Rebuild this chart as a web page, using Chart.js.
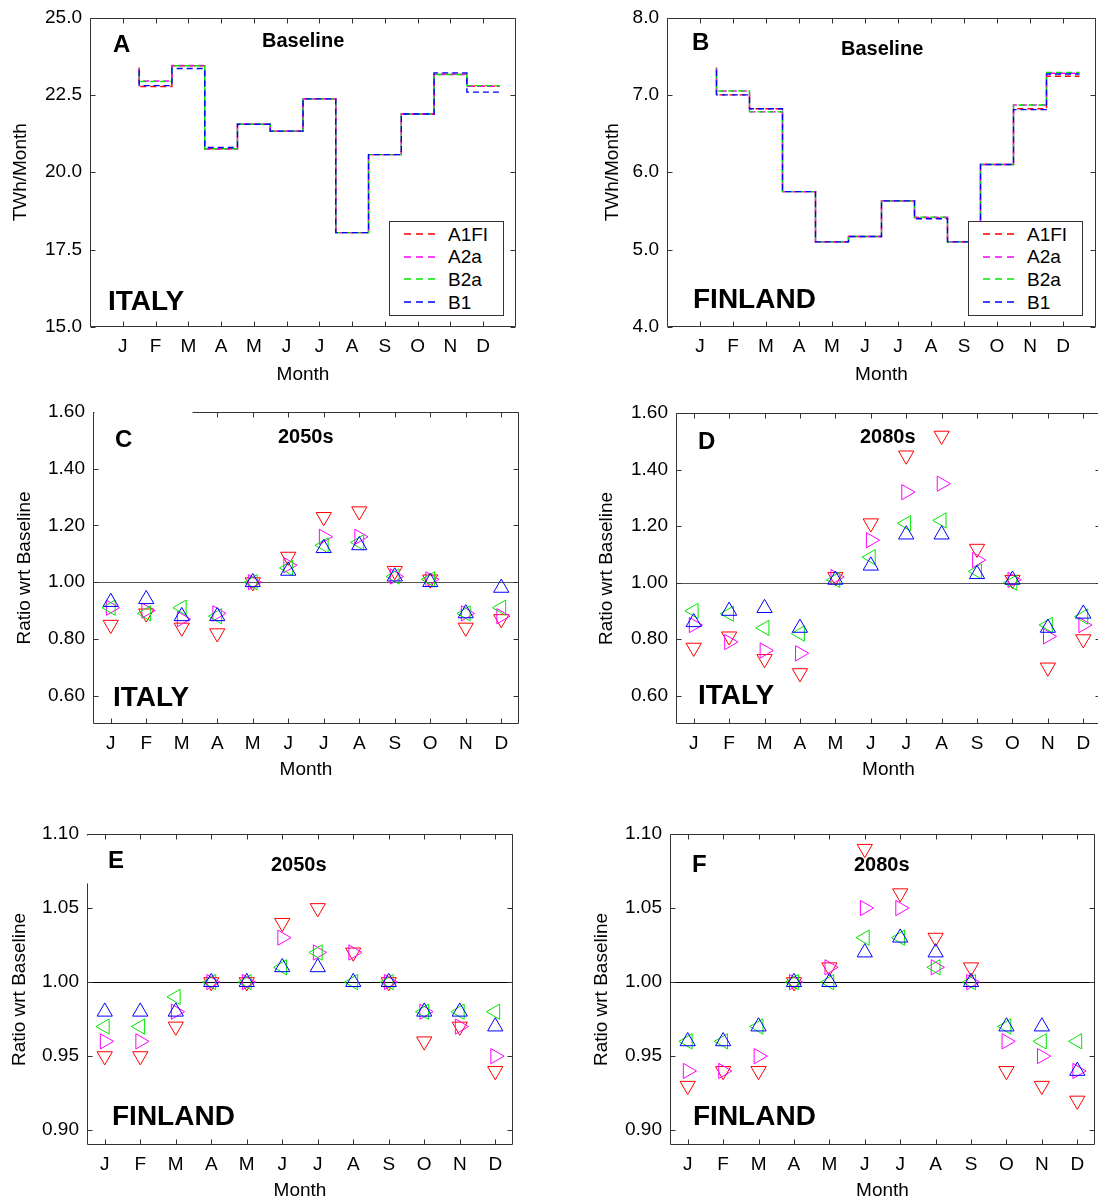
<!DOCTYPE html>
<html>
<head>
<meta charset="utf-8">
<script src="https://cdn.jsdelivr.net/npm/chart.js@4.4.1/dist/chart.umd.min.js"></script>
<style>
  html, body { margin: 0; padding: 0; background: #fff; overflow: hidden; }
  body { width: 1098px; height: 1202px; position: relative; font-family: "Liberation Sans", Arial, sans-serif; }
  canvas { position: absolute; }
  .txt { position: absolute; white-space: nowrap; color: #000; line-height: 1; }
  .legend { position: absolute; border: 1px solid #333; background: #fff; box-sizing: border-box; width: 115px; height: 95px; }
  .legend svg { position: absolute; left: 13px; }
  .legend span { position: absolute; left: 58px; font-size: 19px; line-height: 1; }
</style>
</head>
<body>
<canvas id="cA" width="549" height="400" style="left:0;top:0"></canvas>
<canvas id="cB" width="549" height="400" style="left:549px;top:0"></canvas>
<canvas id="cC" width="549" height="420" style="left:0;top:390px"></canvas>
<canvas id="cD" width="556" height="420" style="left:549px;top:390px"></canvas>
<canvas id="cE" width="549" height="402" style="left:0;top:800px"></canvas>
<canvas id="cF" width="549" height="402" style="left:549px;top:800px"></canvas>
<script>
// ---- data ----
const months = ['J', 'F', 'M', 'A', 'M', 'J', 'J', 'A', 'S', 'O', 'N', 'D'];
const scenarios = ['A1FI', 'A2a', 'B2a', 'B1'];

// baseline demand, TWh/Month (the J value is where the stair starts)
const italyBaseA1FI = [23.38, 22.77, 23.44, 20.76, 21.55, 21.33, 22.37, 18.05, 20.57, 21.88, 23.17, 22.78];
const italyBaseA2a  = [23.38, 22.95, 23.45, 20.75, 21.55, 21.33, 22.37, 18.05, 20.57, 21.88, 23.16, 22.78];
const italyBaseB2a  = [23.38, 22.93, 23.44, 20.76, 21.55, 21.33, 22.37, 18.05, 20.57, 21.88, 23.16, 22.80];
const italyBaseB1   = [23.38, 22.80, 23.35, 20.80, 21.55, 21.33, 22.37, 18.05, 20.57, 21.88, 23.21, 22.59];

const finlandBaseA1FI = [7.35, 7.00, 6.82, 5.75, 5.10, 5.17, 5.63, 5.41, 5.10, 6.10, 6.82, 7.24];
const finlandBaseA2a  = [7.35, 7.05, 6.78, 5.75, 5.10, 5.17, 5.63, 5.42, 5.10, 6.10, 6.87, 7.28];
const finlandBaseB2a  = [7.35, 7.05, 6.78, 5.75, 5.10, 5.17, 5.63, 5.42, 5.10, 6.10, 6.87, 7.29];
const finlandBaseB1   = [7.35, 7.00, 6.82, 5.75, 5.10, 5.17, 5.63, 5.40, 5.10, 6.10, 6.81, 7.27];

// ratio wrt baseline
const italy2050A1FI = [0.85, 0.89, 0.84, 0.82, 1.00, 1.09, 1.23, 1.25, 1.04, 1.01, 0.84, 0.87];
const italy2050A2a  = [0.91, 0.90, 0.87, 0.89, 1.00, 1.06, 1.16, 1.16, 1.02, 1.01, 0.89, 0.88];
const italy2050B2a  = [0.91, 0.89, 0.91, 0.88, 1.00, 1.05, 1.13, 1.14, 1.02, 1.01, 0.89, 0.91];
const italy2050B1   = [0.93, 0.94, 0.88, 0.88, 1.00, 1.04, 1.12, 1.13, 1.02, 1.00, 0.89, 0.98];

const italy2080A1FI = [0.77, 0.81, 0.73, 0.68, 1.02, 1.21, 1.45, 1.52, 1.12, 1.01, 0.70, 0.80];
const italy2080A2a  = [0.85, 0.79, 0.76, 0.75, 1.02, 1.15, 1.32, 1.35, 1.08, 1.01, 0.81, 0.85];
const italy2080B2a  = [0.90, 0.89, 0.84, 0.82, 1.01, 1.09, 1.21, 1.22, 1.04, 1.00, 0.85, 0.88];
const italy2080B1   = [0.86, 0.90, 0.91, 0.84, 1.01, 1.06, 1.17, 1.17, 1.03, 1.01, 0.84, 0.89];

const finland2050A1FI = [0.95, 0.95, 0.97, 1.00, 1.00, 1.04, 1.05, 1.02, 1.00, 0.96, 0.97, 0.94];
const finland2050A2a  = [0.96, 0.96, 0.98, 1.00, 1.00, 1.03, 1.02, 1.02, 1.00, 0.98, 0.97, 0.95];
const finland2050B2a  = [0.97, 0.97, 0.99, 1.00, 1.00, 1.01, 1.02, 1.00, 1.00, 0.98, 0.98, 0.98];
const finland2050B1   = [0.98, 0.98, 0.98, 1.00, 1.00, 1.01, 1.01, 1.00, 1.00, 0.98, 0.98, 0.97];

const finland2080A1FI = [0.93, 0.94, 0.94, 1.00, 1.01, 1.09, 1.06, 1.03, 1.01, 0.94, 0.93, 0.92];
const finland2080A2a  = [0.94, 0.94, 0.95, 1.00, 1.01, 1.05, 1.05, 1.01, 1.00, 0.96, 0.95, 0.94];
const finland2080B2a  = [0.96, 0.96, 0.97, 1.00, 1.00, 1.03, 1.03, 1.01, 1.00, 0.97, 0.96, 0.96];
const finland2080B1   = [0.96, 0.96, 0.97, 1.00, 1.00, 1.02, 1.03, 1.02, 1.00, 0.97, 0.97, 0.94];

// tick labels
const italyBaseTicks = [15.0, 17.5, 20.0, 22.5, 25.0];
const finlandBaseTicks = [4.0, 5.0, 6.0, 7.0, 8.0];
const italyRatioTicks = [0.60, 0.80, 1.00, 1.20, 1.40, 1.60];
const finlandRatioTicks = [0.90, 0.95, 1.00, 1.05, 1.10];

// ---- style ----
const seriesColors = ['#ff0000', '#ff00ff', '#00e600', '#0000ff'];
const markerRotation = [180, 90, 270, 0];   // down, right, left, up

Chart.defaults.font.family = '"Liberation Sans", Arial, sans-serif';
Chart.defaults.font.size = 19;
Chart.defaults.color = '#000';

function stairs(values) {
  const pts = [{ x: 1.5, y: values[0] }];
  for (let i = 1; i < values.length; i++) {
    pts.push({ x: i + 0.5, y: values[i] }, { x: i + 1.5, y: values[i] });
  }
  return pts;
}

function monthly(values) {
  return values.map((v, i) => ({ x: i + 1, y: v }));
}

// box round the plot, inward ticks on all four sides, reference line
function framePlugin(p) {
  return {
    id: 'frame',
    beforeDatasetsDraw(chart) {
      if (p.ref == null) return;
      const { ctx, chartArea: a, scales: { y } } = chart;
      const py = Math.round(y.getPixelForValue(p.ref)) + 0.5;
      ctx.save();
      ctx.strokeStyle = p.refColor;
      ctx.lineWidth = 1;
      ctx.beginPath();
      ctx.moveTo(a.left, py);
      ctx.lineTo(a.right, py);
      ctx.stroke();
      ctx.restore();
    },
    afterDraw(chart) {
      const { ctx, chartArea: a, scales: { x, y } } = chart;
      const L = Math.round(a.left) + 0.5, R = Math.round(a.right) - 0.5;
      const T = Math.round(a.top) + 0.5, B = Math.round(a.bottom) - 0.5;
      ctx.save();
      ctx.strokeStyle = '#333';
      ctx.lineWidth = 1;
      ctx.beginPath();
      ctx.rect(L, T, R - L, B - T);
      x.ticks.forEach(t => {
        const px = Math.round(x.getPixelForValue(t.value)) + 0.5;
        ctx.moveTo(px, B); ctx.lineTo(px, B - 5);
        ctx.moveTo(px, T); ctx.lineTo(px, T + 5);
      });
      y.ticks.forEach(t => {
        const py = Math.round(y.getPixelForValue(t.value)) + 0.5;
        ctx.moveTo(L, py); ctx.lineTo(L + 5, py);
        ctx.moveTo(R, py); ctx.lineTo(R - 5, py);
      });
      ctx.stroke();
      // white label boxes that cut into the frame in the original
      ctx.fillStyle = '#fff';
      (p.masks || []).forEach(m => ctx.fillRect(a.left + m[0], a.top + m[1], m[2], m[3]));
      ctx.restore();
    }
  };
}

function makePanel(p) {
  const cv = document.getElementById(p.id);
  const W = cv.width, H = cv.height;
  const datasets = p.series.map((vals, i) => p.kind === 'stairs' ? {
    label: scenarios[i],
    data: stairs(vals),
    showLine: true,
    borderColor: seriesColors[i],
    borderWidth: 1.4,
    borderDash: [6, 4],
    borderDashOffset: i * 2.5,
    pointRadius: 0,
    order: 3 - i
  } : {
    label: scenarios[i],
    data: monthly(vals),
    showLine: false,
    pointStyle: 'triangle',
    pointRotation: markerRotation[i],
    pointRadius: 8.8,
    pointBorderWidth: 1,
    pointBorderColor: seriesColors[i],
    pointBackgroundColor: 'rgba(0,0,0,0)',
    order: 3 - i
  });

  new Chart(cv, {
    type: 'scatter',
    data: { datasets },
    options: {
      responsive: false,
      animation: false,
      events: [],
      layout: { autoPadding: false, padding: { left: 0, top: p.plot[1], right: W - p.plot[2], bottom: 0 } },
      plugins: { legend: { display: false }, tooltip: { enabled: false } },
      scales: {
        x: {
          type: 'linear', min: p.xMin, max: p.xMax,
          grid: { display: false, drawTicks: false }, border: { display: false },
          afterBuildTicks: s => { s.ticks = months.map((m, i) => ({ value: i + 1 })); },
          afterFit: s => { s.height = H - p.plot[3]; },
          ticks: { padding: 10.5, autoSkip: false, maxRotation: 0, font: { size: 19, lineHeight: 1 },
                   callback: v => months[v - 1] },
          title: { display: true, text: 'Month', font: { size: 19, lineHeight: 1 },
                   padding: { top: 0, bottom: H - p.monthY - 9.5 } }
        },
        y: {
          type: 'linear', min: p.yMin, max: p.yMax,
          grid: { display: false, drawTicks: false }, border: { display: false },
          afterBuildTicks: s => { s.ticks = p.yTicks.map(v => ({ value: v })); },
          afterFit: s => { s.width = p.plot[0]; },
          ticks: { padding: 8, font: { size: 19, lineHeight: 1 }, callback: v => v.toFixed(p.dec) },
          title: { display: true, text: p.yTitle, font: { size: 19, lineHeight: 1 },
                   padding: { top: p.titleX - 9.5, bottom: 0 } }
        }
      }
    },
    plugins: [framePlugin(p)]
  });
}

const ratioTitle = 'Ratio wrt Baseline';

makePanel({ id: 'cA', kind: 'stairs', series: [italyBaseA1FI, italyBaseA2a, italyBaseB2a, italyBaseB1],
  xMin: 0, xMax: 13, yMin: 15, yMax: 25, yTicks: italyBaseTicks, dec: 1, yTitle: 'TWh/Month',
  plot: [90, 17, 516, 327], monthY: 375, titleX: 20.5 });
makePanel({ id: 'cB', kind: 'stairs', series: [finlandBaseA1FI, finlandBaseA2a, finlandBaseB2a, finlandBaseB1],
  xMin: 0, xMax: 13, yMin: 4, yMax: 8, yTicks: finlandBaseTicks, dec: 1, yTitle: 'TWh/Month',
  plot: [118, 17, 547, 327], monthY: 375, titleX: 64 });
makePanel({ id: 'cC', kind: 'ratio', series: [italy2050A1FI, italy2050A2a, italy2050B2a, italy2050B1],
  xMin: 0.5, xMax: 12.5, yMin: 0.5, yMax: 1.6, yTicks: italyRatioTicks, dec: 2, yTitle: ratioTitle,
  plot: [93, 22, 519, 334], monthY: 380, titleX: 25, ref: 1, refColor: '#555', masks: [[1.5, -1, 98, 8]] });
makePanel({ id: 'cD', kind: 'ratio', series: [italy2080A1FI, italy2080A2a, italy2080B2a, italy2080B1],
  xMin: 0.5, xMax: 12.5, yMin: 0.5, yMax: 1.6, yTicks: italyRatioTicks, dec: 2, yTitle: ratioTitle,
  plot: [127, 23, 552, 334], monthY: 380, titleX: 58, ref: 1, refColor: '#555' });
makePanel({ id: 'cE', kind: 'ratio', series: [finland2050A1FI, finland2050A2a, finland2050B2a, finland2050B1],
  xMin: 0.5, xMax: 12.5, yMin: 0.89, yMax: 1.10, yTicks: finlandRatioTicks, dec: 2, yTitle: ratioTitle,
  plot: [87, 34, 513, 345], monthY: 391, titleX: 20, ref: 1, refColor: '#000', masks: [[-1, 1.5, 3, 48]] });
makePanel({ id: 'cF', kind: 'ratio', series: [finland2080A1FI, finland2080A2a, finland2080B2a, finland2080B1],
  xMin: 0.5, xMax: 12.5, yMin: 0.89, yMax: 1.10, yTicks: finlandRatioTicks, dec: 2, yTitle: ratioTitle,
  plot: [121, 34, 546, 345], monthY: 391, titleX: 53, ref: 1, refColor: '#000' });

// ---- panel annotations: [text, left, cap centre y, size] (all bold) ----
const notes = [
  ['A', 113, 43.7, 24], ['Baseline', 262, 40, 20], ['ITALY', 108, 301, 28],
  ['B', 692, 42, 24], ['Baseline', 841, 47.7, 20], ['FINLAND', 693, 298.7, 28],
  ['C', 115, 439, 24], ['2050s', 278, 435.7, 20], ['ITALY', 113, 697, 28],
  ['D', 698, 441, 24], ['2080s', 860, 435.5, 20], ['ITALY', 698, 695, 28],
  ['E', 108, 859.5, 24], ['2050s', 271, 864, 20], ['FINLAND', 112, 1115.5, 28],
  ['F', 692, 864, 24], ['2080s', 854, 864, 20], ['FINLAND', 693, 1116, 28]
];
notes.forEach(([text, x, cy, size]) => {
  const d = document.createElement('div');
  d.className = 'txt';
  d.textContent = text;
  d.style.left = x + 'px';
  d.style.top = (cy - 0.4885 * size) + 'px';
  d.style.fontSize = size + 'px';
  d.style.fontWeight = 'bold';
  document.body.appendChild(d);
});

// ---- legends in panels A and B ----
function addLegend(left, top) {
  const box = document.createElement('div');
  box.className = 'legend';
  box.style.left = left + 'px';
  box.style.top = top + 'px';
  scenarios.forEach((name, i) => {
    const cy = 12 + i * 22.7;
    const ns = 'http://www.w3.org/2000/svg';
    const svg = document.createElementNS(ns, 'svg');
    svg.setAttribute('width', 36);
    svg.setAttribute('height', 6);
    svg.style.top = (cy - 3) + 'px';
    const ln = document.createElementNS(ns, 'line');
    ln.setAttribute('x1', 1); ln.setAttribute('x2', 35);
    ln.setAttribute('y1', 3); ln.setAttribute('y2', 3);
    ln.setAttribute('stroke', seriesColors[i]);
    ln.setAttribute('stroke-width', 1.4);
    ln.setAttribute('stroke-dasharray', '7 5');
    svg.appendChild(ln);
    box.appendChild(svg);
    const s = document.createElement('span');
    s.textContent = name;
    s.style.top = (cy - 0.4885 * 19) + 'px';
    box.appendChild(s);
  });
  document.body.appendChild(box);
}
addLegend(389, 221);
addLegend(968, 221);
</script>
</body>
</html>
